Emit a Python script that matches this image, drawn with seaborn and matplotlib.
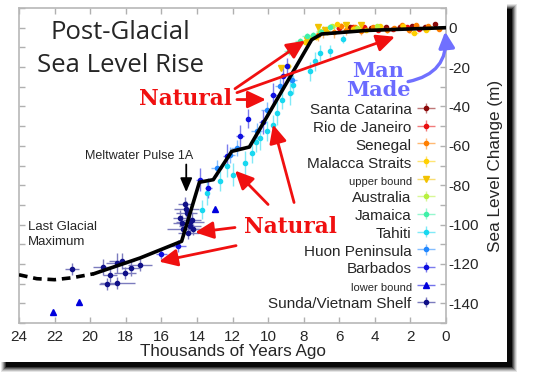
import numpy as np
import pandas as pd
import matplotlib
matplotlib.use("Agg")
import matplotlib.pyplot as plt
import matplotlib.colors as mcolors
from matplotlib.patches import Rectangle
from matplotlib.legend_handler import HandlerErrorbar
from matplotlib.ticker import MultipleLocator, FuncFormatter
import seaborn as sns

# ---- data (thousands of years ago, metres) ----
curve_t = [19.8, 17.2, 14.86, 13.86, 13.08, 12.04, 11.05, 7.55, 6.99, 4.46, 0.0]
curve_m = [-125, -117, -108.5, -78.5, -77.2, -62.8, -60.6, -6.1, -3.2, -1.4, 0.0]
lgm_t = [24.0, 23.0, 22.0, 21.0, 19.8]
lgm_m = [-125.5, -127.5, -128.0, -127.0, -125.0]

santa_t = [4.2, 3.4, 2.6, 1.9, 1.2, 0.6, 5.4]
santa_m = [-0.3, 0.2, 0.3, 0.8, 0.5, 2.0, 0.4]
santa_xe = [0.15, 0.15, 0.2, 0.15, 0.1, 0.1, 0.15]
santa_ye = [0.8, 1.0, 0.8, 1.0, 0.8, 1.0, 0.8]

rio_t = [5.2, 4.6, 3.8, 3.0, 2.2, 1.5, 6.0]
rio_m = [0.5, 0.3, -1.2, -0.5, 0.2, -0.8, -0.3]
rio_xe = [0.2, 0.15, 0.2, 0.2, 0.15, 0.15, 0.2]
rio_ye = [1.0, 1.0, 1.2, 1.0, 1.0, 1.0, 1.0]

senegal_t = [6.3, 5.9, 5.6, 4.8, 4.1, 3.3, 2.9, 2.5, 1.7, 1.0, 0.4, 6.9, 7.2, 5.1, 2.1]
senegal_m = [-2.4, 0.8, -1.0, -1.8, 0.5, -1.3, -0.4, 1.2, 1.5, 0.8, -0.5, -2.0, -3.5, 0.2, -1.0]
senegal_xe = [0.2] * 15
senegal_ye = [3.0, 1.5, 2.5, 2.0, 1.0, 1.5, 1.0, 1.0, 1.0, 1.0, 1.0, 3.0, 3.5, 1.0, 1.5]

malacca_t = [8.9, 7.3, 6.7, 5.2, 4.5, 3.7, 1.8, 1.1, 7.9, 6.1, 2.4]
malacca_m = [-19.5, -4.5, -2.0, -0.5, -1.0, 0.8, -2.5, -1.3, -7.5, 1.8, 1.0]
malacca_xe = [0.2] * 11
malacca_ye = [1.5, 1.5, 1.5, 1.0, 1.0, 1.0, 1.0, 1.0, 1.5, 1.0, 1.0]

upper_t = [9.3, 7.8, 7.2, 6.8, 5.6, 4.8]
upper_m = [-20.5, -6.0, 0.5, -1.0, 1.5, 1.5]

australia_t = [8.3, 7.6, 6.4, 5.0, 3.9, 7.1]
australia_m = [-9.0, -5.0, 1.0, -0.2, 0.7, -1.5]
australia_xe = [0.2] * 6
australia_ye = [1.5, 1.5, 1.0, 1.0, 1.0, 1.0]

jamaica_t = [8.8, 8.2, 7.5, 7.0, 6.5, 7.8]
jamaica_m = [-12.0, -7.0, -3.5, -2.2, 0.5, -4.0]
jamaica_xe = [0.3] * 6
jamaica_ye = [2.0, 2.0, 1.5, 1.5, 1.5, 1.5]

tahiti_t = [13.73, 13.45, 12.70, 11.95, 11.30, 10.92, 10.45, 10.08, 9.70, 9.52,
            9.24, 8.77, 8.58, 7.64, 7.36, 7.08, 6.52, 5.77, 12.3, 10.7]
tahiti_m = [-92.4, -83.9, -78.0, -74.6, -68.7, -63.6, -56.0, -52.6, -49.2, -43.3,
            -36.5, -33.2, -28.9, -22.2, -17.1, -12.9, -12.0, -5.8, -70.0, -58.0]
tahiti_xe = [0.1] * 20
tahiti_ye = [5, 6, 5, 6, 6, 5, 6, 5, 5, 6, 5, 6, 5, 5, 5, 4, 3, 2, 6, 5]

huon_t = [12.89, 12.14, 11.76, 10.64, 10.08, 9.33, 8.67]
huon_m = [-71.2, -64.5, -61.1, -52.6, -41.6, -29.8, -26.4]
huon_xe = [0.3, 0.3, 0.3, 0.3, 0.3, 0.3, 0.3]
huon_ye = [4, 4, 4, 4, 4, 4, 4]

barbados_t = [16.0, 15.04, 13.83, 13.36, 12.33, 11.58, 11.11, 10.3, 9.70, 9.14, 8.95]
barbados_m = [-114.7, -111.0, -77.2, -81.4, -65.3, -55.2, -46.2, -48.0, -34.0, -24.7, -19.6]
barbados_xe = [0.3, 0.4, 0.2, 0.2, 0.2, 0.2, 0.1, 0.2, 0.2, 0.2, 0.2]
barbados_ye = [3, 3, 6, 5, 6, 6, 5, 6, 6, 5, 4]

lower_t = [22.07, 20.63, 12.98]
lower_m = [-144.5, -139.3, -91.9]

sunda_t = [21.04, 19.26, 19.03, 18.88, 18.47, 18.51, 18.23, 18.04, 17.70, 17.20,
           14.67, 14.58, 14.86, 14.39, 14.76, 14.29, 14.95, 14.48, 14.2, 14.6, 14.4]
sunda_m = [-122.5, -121.7, -130.1, -125.4, -129.6, -119.5, -118.6, -124.5, -122.0, -120.6,
           -89.8, -94.1, -99.2, -100.8, -102.5, -97.5, -96.6, -104.2, -102.5, -92.0, -98.8]
sunda_xe = [0.4, 0.6, 0.5, 0.4, 1.0, 0.6, 0.7, 0.6, 0.5, 0.7,
            0.4, 0.6, 0.5, 0.6, 0.9, 0.5, 0.4, 0.6, 0.5, 0.7, 0.8]
sunda_ye = [3, 4, 3, 4, 3, 5, 4, 3, 4, 3, 4, 5, 4, 4, 3, 4, 4, 3, 3, 4, 3]

x_ticks = [24, 22, 20, 18, 16, 14, 12, 10, 8, 6, 4, 2, 0]

W, H = 546, 379

sns.set_theme(style="white")
plt.rcParams["font.family"] = ["Liberation Sans", "DejaVu Sans"]
plt.rcParams["axes.unicode_minus"] = False

fig = plt.figure(figsize=(W / 100, H / 100), dpi=100, facecolor="white")

# drop shadow behind the white card
for k, a in [(5, 0.10), (4, 0.15), (3, 0.22), (2, 0.32), (1, 0.45), (0, 0.85)]:
    x0, y0 = 6 - k, 9 - k
    x1, y1 = 512 + k, 367 + k
    fig.patches.append(Rectangle((x0 / W, 1 - y1 / H), (x1 - x0) / W, (y1 - y0) / H,
                                 transform=fig.transFigure, facecolor="black",
                                 edgecolor="none", alpha=a, zorder=-10))
fig.patches.append(Rectangle((0, 1 - 362 / H), 507 / W, 362 / H, transform=fig.transFigure,
                             facecolor="white", edgecolor="none", zorder=-5))

ax = fig.add_axes([19 / W, 1 - 323 / H, 427 / W, 315 / H])
ax.set_facecolor("white")


def lighter(c, f=0.45):
    r, g, b = mcolors.to_rgb(c)
    return (r + (1 - r) * f, g + (1 - g) * f, b + (1 - b) * f)


series = [
    ("Santa Catarina", santa_t, santa_m, santa_xe, santa_ye, "#8b0a0a", "o"),
    ("Rio de Janeiro", rio_t, rio_m, rio_xe, rio_ye, "#e81010", "o"),
    ("Senegal", senegal_t, senegal_m, senegal_xe, senegal_ye, "#ff7f00", "o"),
    ("Malacca Straits", malacca_t, malacca_m, malacca_xe, malacca_ye, "#ffd000", "o"),
    ("upper bound", upper_t, upper_m, [0] * len(upper_t), None, "#f2c200", "v"),
    ("Australia", australia_t, australia_m, australia_xe, australia_ye, "#b8f040", "o"),
    ("Jamaica", jamaica_t, jamaica_m, jamaica_xe, jamaica_ye, "#40f0a8", "o"),
    ("Tahiti", tahiti_t, tahiti_m, tahiti_xe, tahiti_ye, "#18d8f0", "o"),
    ("Huon Peninsula", huon_t, huon_m, huon_xe, huon_ye, "#2288ff", "o"),
    ("Barbados", barbados_t, barbados_m, barbados_xe, barbados_ye, "#1010e0", "o"),
    ("lower bound", lower_t, lower_m, [0] * len(lower_t), None, "#0000dd", "^"),
    ("Sunda/Vietnam Shelf", sunda_t, sunda_m, sunda_xe, sunda_ye, "#101088", "o"),
]

for name, t, m, xe, ye, col, mk in series:
    ax.errorbar(t, m, xerr=xe, yerr=ye, fmt=mk, color=col, ecolor=lighter(col),
                elinewidth=1.0, ms=3.0 if mk == "o" else 4.5, mec=col, capsize=0,
                label=name, zorder=3)

# sea level curve
curve = pd.DataFrame({"t": curve_t, "m": curve_m})
lgm = pd.DataFrame({"t": lgm_t, "m": lgm_m})
sns.lineplot(data=curve, x="t", y="m", sort=False, color="black", lw=2.6, ax=ax,
             zorder=5, legend=False)
sns.lineplot(data=lgm, x="t", y="m", sort=False, color="black", lw=2.6, ax=ax,
             zorder=5, legend=False, dashes=False)
ax.lines[-1].set_dashes([2.4, 1.6])

ax.set_xlim(24, 0)
ax.set_ylim(-150, 10)
ax.set_xticks(x_ticks)
ax.yaxis.set_major_locator(MultipleLocator(10))
ax.yaxis.set_major_formatter(FuncFormatter(lambda v, _: f"{int(v)}" if int(v) % 20 == 0 else ""))
ax.tick_params(axis="both", direction="in", length=4, width=1, color="#b0b0b0",
               labelsize=11, top=True, bottom=True, left=True, right=True,
               labelleft=False, labelright=True)
ax.tick_params(axis="x", pad=5)
ax.tick_params(axis="y", pad=2)
ax.yaxis.set_label_position("right")
for sp in ax.spines.values():
    sp.set_color("#b8b8b8")
    sp.set_linewidth(1.2)
ax.set_xlabel("Thousands of Years Ago", fontsize=12.3, labelpad=0)
ax.set_ylabel("Sea Level Change (m)", fontsize=12.3, labelpad=6)

# legend
leg = ax.legend(loc="upper right", bbox_to_anchor=(0.975, 0.703), frameon=False,
                markerfirst=False, fontsize=11, labelspacing=0.13, handleheight=1.15,
                handlelength=1.2, handletextpad=0.35, borderpad=0, borderaxespad=0,
                numpoints=1,
                handler_map={matplotlib.container.ErrorbarContainer:
                             HandlerErrorbar(xerr_size=0.6, yerr_size=0.35)})
for txt in leg.get_texts():
    if "bound" in txt.get_text():
        txt.set_fontsize(8)

# texts
ax.text(18.32, -2.5, "Post-Glacial", ha="center", va="center", fontsize=18.5,
        family=["Open Sans", "DejaVu Sans"])
ax.text(18.32, -19.3, "Sea Level Rise", ha="center", va="center", fontsize=18.5,
        family=["Open Sans", "DejaVu Sans"])
ax.text(23.5, -101, "Last Glacial", ha="left", va="center", fontsize=9.5)
ax.text(23.5, -108.8, "Maximum", ha="left", va="center", fontsize=9.5)

serif = ["DejaVu Serif"]
ax.text(14.67, -36, "Natural", ha="center", va="center", fontsize=15.5, color="#f01010",
        fontweight="bold", family=serif)
ax.text(8.77, -101, "Natural", ha="center", va="center", fontsize=15.5, color="#f01010",
        fontweight="bold", family=serif)
ax.text(3.82, -22.0, "Man", ha="center", va="center", fontsize=15, color="#6a6aff",
        fontweight="bold", family=serif)
ax.text(3.82, -31.5, "Made", ha="center", va="center", fontsize=15, color="#6a6aff",
        fontweight="bold", family=serif)

red_arrows = [
    ((11.86, -31.0), (7.92, -6.6)),
    ((11.75, -33.0), (2.87, -4.6)),
    ((11.75, -36.5), (10.12, -36.5)),
    ((10.0, -89.8), (11.86, -72.6)),
    ((8.54, -88.8), (9.72, -49.2)),
    ((11.86, -101.5), (14.1, -104.0)),
    ((11.8, -110.7), (16.13, -118.8)),
]
for start, end in red_arrows:
    ax.annotate("", xy=end, xytext=start,
                arrowprops=dict(arrowstyle="-|>,head_length=0.85,head_width=0.4",
                                lw=2.0, color="#f01010", shrinkA=0, shrinkB=0,
                                mutation_scale=13), zorder=6)

ax.annotate("", xy=(0.05, -2.0), xytext=(2.13, -27.4),
            arrowprops=dict(arrowstyle="-|>,head_length=0.8,head_width=0.4", lw=2.4,
                            color="#7070ff", shrinkA=0, shrinkB=0, mutation_scale=12,
                            connectionstyle="arc3,rad=0.45"),
            annotation_clip=False, zorder=6)

ax.text(17.25, -65, "Meltwater Pulse 1A", ha="center", va="center", fontsize=9)
ax.annotate("", xy=(14.6, -83.5), xytext=(14.6, -69.5),
            arrowprops=dict(arrowstyle="-|>,head_length=0.7,head_width=0.3", lw=1.3,
                            color="black", shrinkA=0, shrinkB=0, mutation_scale=12))

fig.savefig("out.png", dpi=100, facecolor="white")
